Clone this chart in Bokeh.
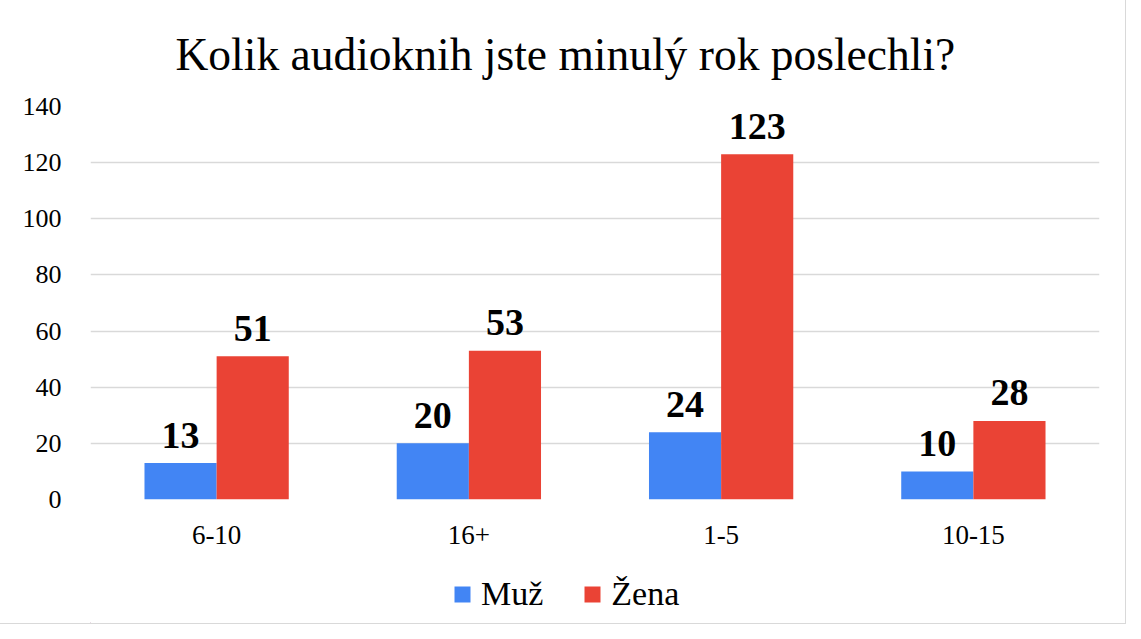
from bokeh.plotting import figure
from bokeh.layouts import column
from bokeh.models import ColumnDataSource, FactorRange, Range1d, Legend, LegendItem, FixedTicker
from bokeh.transform import dodge
from bokeh.core.properties import value
from bokeh.embed import file_html
from bokeh.resources import INLINE

categories = ["6-10", "16+", "1-5", "10-15"]
muz = [13, 20, 24, 10]
zena = [51, 53, 123, 28]
y_ticks = [0, 20, 40, 60, 80, 100, 120, 140]
title_text = "Kolik audioknih jste minulý rok poslechli?"
series_names = ["Muž", "Žena"]

BLUE = "#4285F4"
RED = "#EA4335"
SERIF = "Liberation Serif"

src = ColumnDataSource(dict(cat=categories, muz=muz, zena=zena,
                            muz_l=[str(v) for v in muz], zena_l=[str(v) for v in zena]))

p = figure(width=1125, height=570, x_range=FactorRange(*categories, range_padding=0),
           y_range=Range1d(0, 140), output_backend="svg", toolbar_location=None,
           title=title_text, min_border_left=90, min_border_right=26,
           min_border_top=106, min_border_bottom=71)

p.title.text_font = SERIF
p.title.text_font_size = "45.5px"
p.title.text_font_style = "normal"
p.title.align = "left"
p.title.offset = 85
p.title.text_color = "#000000"
p.title.standoff = 53

p.outline_line_color = None
p.xgrid.grid_line_color = None
p.ygrid.grid_line_color = "#d9d9d9"
p.ygrid.grid_line_width = 1.5

p.yaxis.ticker = FixedTicker(ticks=y_ticks)
p.yaxis.axis_line_color = None
p.yaxis.major_tick_line_color = None
p.yaxis.minor_tick_line_color = None
p.yaxis.major_label_text_font = SERIF
p.yaxis.major_label_text_font_size = "26px"
p.yaxis.major_label_text_color = "#000000"
p.yaxis.major_label_standoff = 23

p.xaxis.axis_line_color = None
p.xaxis.major_tick_line_color = None
p.xaxis.major_label_text_font = SERIF
p.xaxis.major_label_text_font_size = "27px"
p.xaxis.major_label_text_color = "#000000"
p.xaxis.major_label_standoff = 20

off = 0.143
bw = 0.286
p.vbar(x=dodge("cat", -off, range=p.x_range), top="muz", width=bw, source=src,
       fill_color=BLUE, line_color=None)
p.vbar(x=dodge("cat", off, range=p.x_range), top="zena", width=bw, source=src,
       fill_color=RED, line_color=None)

for col, lab, dx in (("muz", "muz_l", -off), ("zena", "zena_l", off)):
    p.text(x=dodge("cat", dx, range=p.x_range), y=col, text=lab, source=src,
           text_font=value(SERIF), text_font_size="38px", text_font_style="bold",
           text_align="center", text_baseline="alphabetic", y_offset=-28,
           text_color="#000000")

# legend strip below the chart (swatch renderers sit outside the visible range)
lg = figure(width=1125, height=53, x_range=Range1d(0, 1125), y_range=Range1d(0, 53),
            output_backend="svg", toolbar_location=None,
            x_axis_location=None, y_axis_location=None,
            min_border=0, outline_line_color=None)
lg.grid.visible = False
d1 = lg.vbar(x=[-1000], top=[1], width=1, fill_color=BLUE, line_color=None)
d2 = lg.vbar(x=[-1000], top=[1], width=1, fill_color=RED, line_color=None)
legend = Legend(items=[LegendItem(label=series_names[0], renderers=[d1]),
                       LegendItem(label=series_names[1], renderers=[d2])],
                orientation="horizontal", location=(362, 10),
                label_text_font=SERIF, label_text_font_size="34px",
                label_text_color="#000000",
                glyph_width=20, glyph_height=20, spacing=39, label_standoff=9,
                margin=0, padding=0, border_line_color=None, background_fill_alpha=0)
lg.add_layout(legend, "center")

layout = column(p, lg, spacing=0)
layout.styles = {"outline": "1px solid #d9d9d9"}

open("out.html", "w").write(file_html(layout, INLINE))
